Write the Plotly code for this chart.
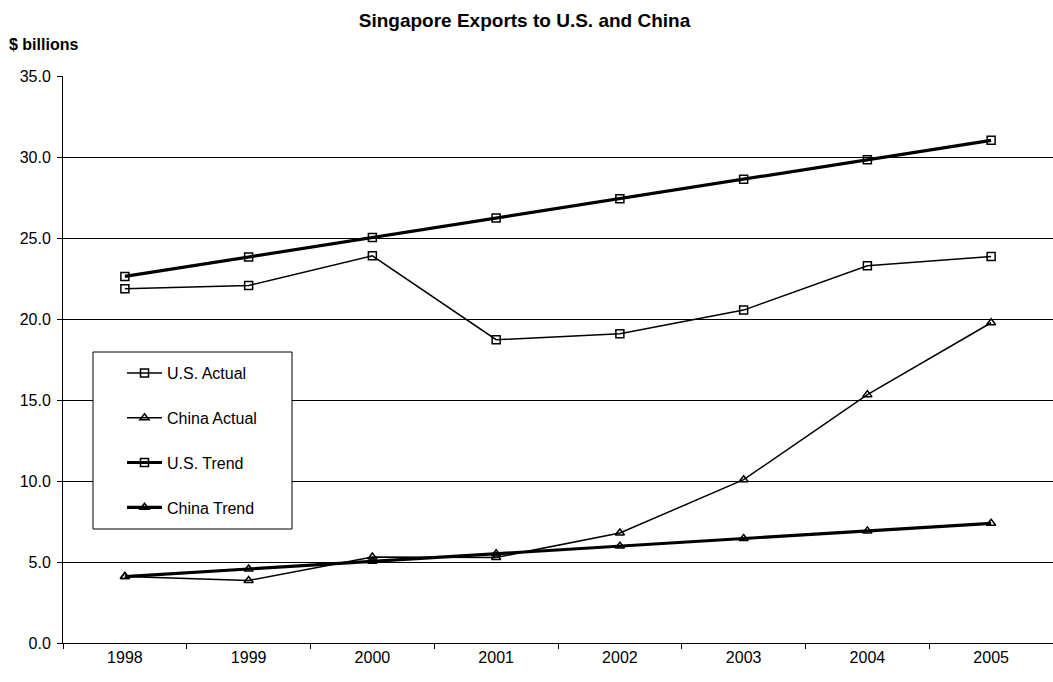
import plotly.graph_objects as go

# Singapore exports, $ billions
years = ["1998", "1999", "2000", "2001", "2002", "2003", "2004", "2005"]
us_actual = [21.87, 22.07, 23.90, 18.72, 19.09, 20.55, 23.29, 23.86]
china_actual = [4.10, 3.86, 5.31, 5.28, 6.79, 10.08, 15.33, 19.77]
us_trend = [22.63, 23.83, 25.03, 26.23, 27.43, 28.63, 29.83, 31.03]
china_trend = [4.10, 4.57, 5.04, 5.51, 5.98, 6.45, 6.92, 7.39]

y_ticks = [0, 5, 10, 15, 20, 25, 30, 35]
y_tick_text = [f"{v:.1f}" for v in y_ticks]

FONT = "Arial, Liberation Sans, sans-serif"

series = [
    ("U.S. Actual", us_actual, "square-open", 1.5),
    ("China Actual", china_actual, "triangle-up-open", 1.5),
    ("U.S. Trend", us_trend, "square-open", 3.2),
    ("China Trend", china_trend, "triangle-up-open", 3.2),
]

fig = go.Figure()
for name, vals, sym, lw in series:
    fig.add_trace(go.Scatter(
        x=years, y=vals, name=name, legendgroup=name,
        mode="lines+markers",
        line=dict(color="black", width=lw),
        marker=dict(symbol=sym, size=8, color="black",
                    line=dict(color="black", width=1.5)),
    ))

# white boxed area behind the legend entries
fig.add_shape(type="rect", xref="paper", yref="paper",
              x0=(93 - 63) / 990, x1=(292 - 63) / 990,
              y0=(643 - 529) / 567, y1=(643 - 352) / 567,
              line=dict(color="black", width=1), fillcolor="white",
              layer="above")

fig.add_annotation(text="<b>$ billions</b>", xref="paper", yref="paper",
                   x=(7 - 63) / 990, y=(643 - 44) / 567,
                   xanchor="left", yanchor="middle", showarrow=False,
                   font=dict(family=FONT, size=16, color="black"))

fig.update_layout(
    width=1053, height=682,
    margin=dict(l=63, r=0, t=76, b=39),
    paper_bgcolor="white", plot_bgcolor="white",
    font=dict(family=FONT, size=16, color="black"),
    title=dict(text="<b>Singapore Exports to U.S. and China</b>",
               x=524.5 / 1053, xref="container", xanchor="center",
               y=1 - 20 / 682, yref="container", yanchor="middle",
               font=dict(family=FONT, size=19, color="black")),
    showlegend=True,
    legend=dict(x=(122 - 63) / 990, y=(643 - 356) / 567,
                xanchor="left", yanchor="top",
                bgcolor="rgba(0,0,0,0)", borderwidth=0,
                traceorder="grouped", tracegroupgap=21,
                itemwidth=35,
                font=dict(family=FONT, size=16, color="black")),
    xaxis=dict(type="category", range=[-0.5, 7.5],
               showline=True, linecolor="black", linewidth=1,
               ticks="outside", tickson="boundaries", ticklen=5,
               tickcolor="black", showgrid=False, zeroline=False,
               tickfont=dict(family=FONT, size=16, color="black")),
    yaxis=dict(range=[0, 35], tickvals=y_ticks, ticktext=y_tick_text,
               showline=True, linecolor="black", linewidth=1,
               ticks="outside", ticklen=5, tickcolor="black",
               ticklabelstandoff=3,
               showgrid=True, gridcolor="black", gridwidth=1,
               zeroline=False,
               tickfont=dict(family=FONT, size=16, color="black")),
)

fig.write_html("out.html")
